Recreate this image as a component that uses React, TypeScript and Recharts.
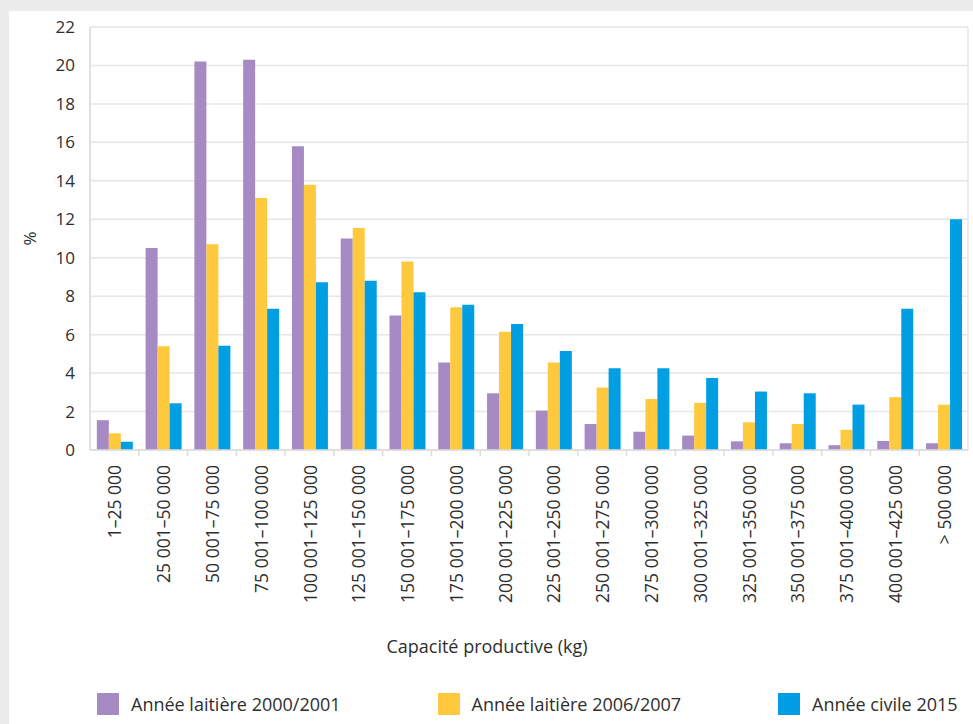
import React from 'react';
import { BarChart, Bar, XAxis, YAxis, CartesianGrid, Legend } from 'recharts';

const categories = [
  '1–25 000',
  '25 001–50 000',
  '50 001–75 000',
  '75 001–100 000',
  '100 001–125 000',
  '125 001–150 000',
  '150 001–175 000',
  '175 001–200 000',
  '200 001–225 000',
  '225 001–250 000',
  '250 001–275 000',
  '275 001–300 000',
  '300 001–325 000',
  '325 001–350 000',
  '350 001–375 000',
  '375 001–400 000',
  '400 001–425 000',
  '> 500 000',
];

const annee2000 = [1.55, 10.5, 20.2, 20.3, 15.8, 11.0, 7.0, 4.55, 2.95, 2.05, 1.35, 0.95, 0.75, 0.45, 0.35, 0.25, 0.47, 0.35];
const annee2006 = [0.87, 5.4, 10.7, 13.1, 13.8, 11.55, 9.8, 7.42, 6.15, 4.55, 3.25, 2.65, 2.45, 1.44, 1.35, 1.05, 2.75, 2.36];
const annee2015 = [0.43, 2.43, 5.42, 7.35, 8.72, 8.8, 8.2, 7.55, 6.55, 5.15, 4.25, 4.25, 3.75, 3.04, 2.95, 2.36, 7.35, 12.0];

const seriesNames = ['Année laitière 2000/2001', 'Année laitière 2006/2007', 'Année civile 2015'];
const yTicks = [0, 2, 4, 6, 8, 10, 12, 14, 16, 18, 20, 22];
const xAxisTitle = 'Capacité productive (kg)';
const yAxisTitle = '%';

const data = categories.map((c, i) => ({
  cat: c,
  a: annee2000[i],
  b: annee2006[i],
  c: annee2015[i],
}));

const FONT = '"Open Sans", sans-serif';
const TEXT = '#2e2e2e';
const GRID = '#e6e6e6';

const XTick = (props: any) => {
  const { x, y, payload, index } = props;
  const off = payload && typeof payload.offset === 'number' ? payload.offset : 0;
  return (
    <g>
      {index > 0 && (
        <line x1={x - off} x2={x - off} y1={y} y2={y + 6} stroke="#dcdcdc" strokeWidth={1.5} />
      )}
      <text
        x={x}
        y={y + 15}
        transform={`rotate(-90, ${x}, ${y + 15})`}
        textAnchor="end"
        dominantBaseline="central"
        fontFamily={FONT}
        fontSize={17.5}
        fill={TEXT}
      >
        {payload.value}
      </text>
    </g>
  );
};

const renderLegend = (props: any) => {
  const items = [...(props.payload || [])].sort(
    (p: any, q: any) => seriesNames.indexOf(p.value) - seriesNames.indexOf(q.value)
  );
  return (
    <div style={{ position: 'relative', width: 964, height: 22 }}>
      {items.map((p: any, i: number) => (
        <div
          key={p.value}
          style={{
            position: 'absolute',
            left: 88 + i * 340.5,
            top: 0,
            height: 22,
            display: 'flex',
            alignItems: 'center',
            whiteSpace: 'nowrap',
          }}
        >
          <span style={{ display: 'inline-block', width: 22, height: 22, background: p.color, marginRight: 12 }} />
          <span style={{ fontFamily: FONT, fontSize: 18, color: TEXT, lineHeight: '22px' }}>{p.value}</span>
        </div>
      ))}
    </div>
  );
};

export default function App() {
  return (
    <div
      style={{
        position: 'absolute',
        left: 0,
        top: 0,
        width: 973,
        height: 724,
        background: '#ebebeb',
        overflow: 'hidden',
      }}
    >
      <div style={{ position: 'absolute', left: 9, top: 11, width: 964, height: 713, background: '#ffffff' }}>
        <BarChart
          width={964}
          height={713}
          data={data}
          margin={{ top: 16, right: 5, left: 0, bottom: 9 }}
          barCategoryGap="14%"
          barGap={0}
        >
          <CartesianGrid
            stroke={GRID}
            strokeWidth={1.5}
            verticalCoordinatesGenerator={({ offset }: any) => [offset.left, offset.left + offset.width]}
          />
          <XAxis
            dataKey="cat"
            interval={0}
            height={243}
            tickLine={false}
            tickSize={0}
            tickMargin={0}
            axisLine={{ stroke: '#dcdcdc', strokeWidth: 1.5 }}
            tick={<XTick />}
            label={(p: any) => {
              const vb = p.viewBox || {};
              return (
                <text
                  x={vb.x + vb.width / 2 - 42}
                  y={vb.y + 196}
                  textAnchor="middle"
                  dominantBaseline="central"
                  fontFamily={FONT}
                  fontSize={18}
                  fill={TEXT}
                >
                  {xAxisTitle}
                </text>
              );
            }}
          />
          <YAxis
            width={81}
            domain={[0, 22]}
            ticks={yTicks}
            interval={0}
            tickLine={false}
            tickMargin={9}
            axisLine={{ stroke: '#dcdcdc', strokeWidth: 1.5 }}
            tick={{ fontFamily: FONT, fontSize: 17, fill: TEXT }}
            label={(p: any) => {
              const vb = p.viewBox || {};
              const cx = vb.x + 20;
              const cy = vb.y + vb.height / 2;
              return (
                <text
                  x={cx}
                  y={cy}
                  transform={`rotate(-90, ${cx}, ${cy})`}
                  textAnchor="middle"
                  dominantBaseline="central"
                  fontFamily={FONT}
                  fontSize={17}
                  fill={TEXT}
                >
                  {yAxisTitle}
                </text>
              );
            }}
          />
          <Legend
            verticalAlign="bottom"
            height={22}
            content={renderLegend}
            wrapperStyle={{ left: 0, top: 682, width: 964, height: 22, margin: 0 }}
          />
          <Bar dataKey="a" name={seriesNames[0]} fill="#a68ac3" isAnimationActive={false} />
          <Bar dataKey="b" name={seriesNames[1]} fill="#ffc93e" isAnimationActive={false} />
          <Bar dataKey="c" name={seriesNames[2]} fill="#009ee2" isAnimationActive={false} />
        </BarChart>
      </div>
    </div>
  );
}
